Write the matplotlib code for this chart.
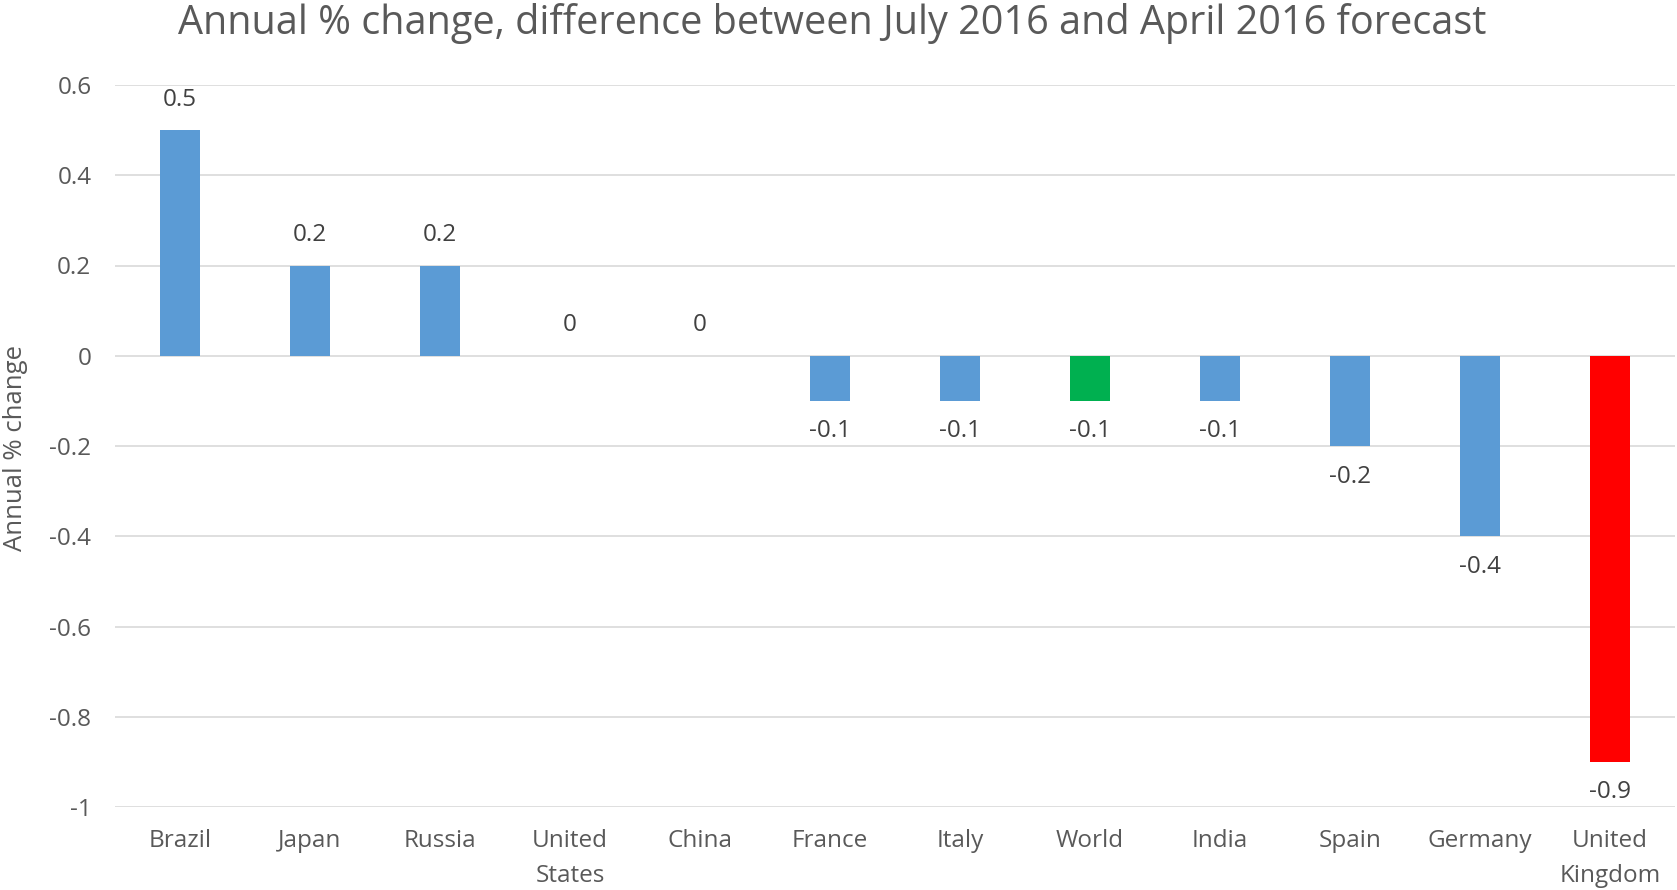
import matplotlib
matplotlib.use("Agg")
import matplotlib.pyplot as plt

categories = ["Brazil", "Japan", "Russia", "United\nStates", "China", "France",
              "Italy", "World", "India", "Spain", "Germany", "United\nKingdom"]
values = [0.5, 0.2, 0.2, 0.0, 0.0, -0.1, -0.1, -0.1, -0.1, -0.2, -0.4, -0.9]
labels = ["0.5", "0.2", "0.2", "0", "0", "-0.1", "-0.1", "-0.1", "-0.1", "-0.2", "-0.4", "-0.9"]
yticks = [0.6, 0.4, 0.2, 0, -0.2, -0.4, -0.6, -0.8, -1]
yticklabels = ["0.6", "0.4", "0.2", "0", "-0.2", "-0.4", "-0.6", "-0.8", "-1"]

BLUE = "#5B9BD5"
GREEN = "#00B050"
RED = "#FF0000"
colors = [BLUE] * len(categories)
colors[categories.index("World")] = GREEN
colors[categories.index("United\nKingdom")] = RED

TXT = "#595959"
plt.rcParams["font.family"] = ["Open Sans", "DejaVu Sans"]
FS = 17.5

W, H = 1677, 890
fig = plt.figure(figsize=(W / 100, H / 100), dpi=100)
ax = fig.add_axes([115 / W, 1 - 807 / H, (1675 - 115) / W, (807 - 85) / H])

x = list(range(len(categories)))
ax.bar(x, values, width=0.31, color=colors, zorder=3)

ax.set_xlim(-0.5, len(categories) - 0.5)
ax.set_ylim(-1, 0.6)
ax.set_yticks(yticks)
ax.set_yticklabels(yticklabels)
ax.set_xticks(x)
ax.set_xticklabels(categories, linespacing=1.6)
ax.tick_params(axis="both", length=0, colors=TXT, labelsize=FS)
ax.tick_params(axis="y", pad=17)
ax.tick_params(axis="x", pad=16)

ax.grid(axis="y", color="#D9D9D9", linewidth=1.2, zorder=0)
for s in ax.spines.values():
    s.set_visible(False)

for xi, v, t in zip(x, values, labels):
    off = 22 if v >= 0 else -22
    ax.annotate(t, (xi, v), xytext=(0, off), textcoords="offset points",
                ha="center", va="center", fontsize=FS, color="#404040")

fig.text(16 / W, 1 - 448 / H, "Annual % change", rotation=90, ha="center", va="center",
         fontsize=18.5, color=TXT)

fig.text(0.496, 1 - 24 / H, "Annual % change, difference between July 2016 and April 2016 forecast",
         ha="center", va="center", fontsize=28.5, color=TXT)

fig.savefig("out.png", dpi=100, facecolor="white")
